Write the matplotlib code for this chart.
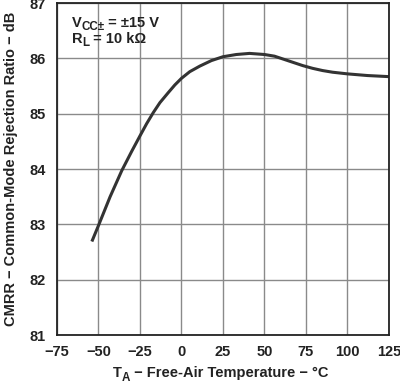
import matplotlib
matplotlib.use("Agg")
import matplotlib.pyplot as plt

plt.rcParams['font.family'] = ['Liberation Sans', 'DejaVu Sans']

temps = [-54, -50, -43, -36, -30, -25, -21, -17, -13, -8, -4, 0, 5, 11, 18, 25,
         33, 41, 50, 56, 61, 67, 73, 79, 85, 91, 100, 112, 125]
cmrr = [82.69, 82.98, 83.5, 83.97, 84.32, 84.6, 84.82, 85.02, 85.2, 85.38, 85.52, 85.64,
        85.76, 85.86, 85.96, 86.03, 86.07, 86.09, 86.07, 86.04, 85.99, 85.93, 85.87,
        85.82, 85.78, 85.75, 85.72, 85.69, 85.67]

xticks = [-75, -50, -25, 0, 25, 50, 75, 100, 125]
xtick_labels = ['\u221275', '\u221250', '\u221225', '0', '25', '50', '75', '100', '125']
yticks = [81, 82, 83, 84, 85, 86, 87]

fs = 10.5
ink = '#222222'

fig = plt.figure(figsize=(4, 3.82), dpi=100)
ax = fig.add_axes([0.1425, 0.123, 0.83, 0.869])

ax.plot(temps, cmrr, color='#333333', linewidth=2.2, solid_capstyle='butt')

ax.set_xlim(-75, 125)
ax.set_ylim(81, 87)
ax.set_xticks(xticks)
ax.set_yticks(yticks)
ax.set_xticklabels(xtick_labels)
ax.grid(True, color='#8a8a8a', linewidth=1.0)
ax.tick_params(length=0, labelsize=fs)
ax.tick_params(axis='x', pad=7)
ax.tick_params(axis='y', pad=8)
for lbl in ax.get_xticklabels() + ax.get_yticklabels():
    lbl.set_fontweight('bold')
    lbl.set_color(ink)
for s in ax.spines.values():
    s.set_linewidth(1.3)
    s.set_color(ink)


def with_sub(t1, sub, rest, size):
    # big subscript after t1, then the rest of the line back on t1's baseline
    t2 = ax.annotate(sub, xy=(1, 0), xycoords=(t1, t1), xytext=(0, -2.5),
                     textcoords='offset points', fontsize=size * 0.8, fontweight='bold',
                     va='bottom', color=ink)
    ax.annotate(rest, xy=(1, 0), xycoords=(t2, t1), xytext=(0, 0),
                textcoords='offset points', fontsize=size, fontweight='bold',
                va='bottom', color=ink)


v = ax.text(-66.2, 86.57, 'V', fontsize=fs, fontweight='bold', va='baseline', color=ink)
with_sub(v, 'CC\u00b1', ' = \u00b115 V', fs)
r = ax.text(-66.2, 86.28, 'R', fontsize=fs, fontweight='bold', va='baseline', color=ink)
with_sub(r, 'L', ' = 10 k\u03a9', fs)

t = fig.text(0.2825, 0.0125, 'T', fontsize=fs, fontweight='bold', va='baseline', color=ink)
with_sub(t, 'A', ' \u2212 Free-Air Temperature \u2212 \u00b0C', fs)

ax.set_ylabel('CMRR \u2212 Common-Mode Rejection Ratio \u2212 dB', fontsize=fs,
              fontweight='bold', labelpad=8, color=ink)

fig.savefig('out.png', dpi=100)
